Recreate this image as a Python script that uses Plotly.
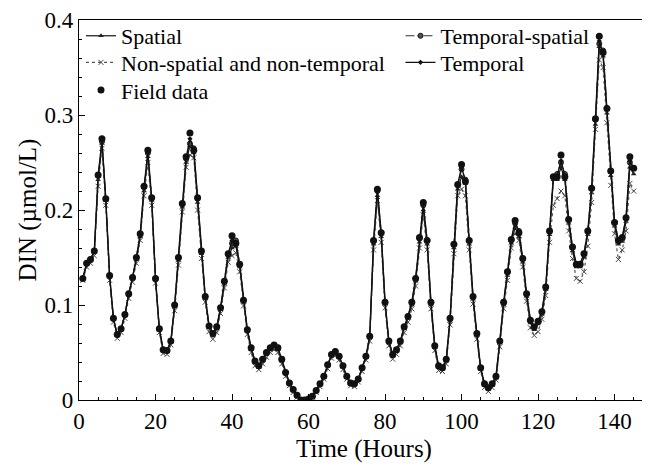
import plotly.graph_objects as go

hours = list(range(1, 146))

field_data = [
    0.128,0.144,0.148,0.157,0.237,0.275,0.212,0.131,0.086,0.069,
    0.075,0.090,0.112,0.129,0.150,0.175,0.225,0.263,0.213,0.128,
    0.075,0.053,0.052,0.062,0.100,0.150,0.207,0.256,0.281,0.263,
    0.213,0.157,0.109,0.078,0.070,0.077,0.097,0.125,0.154,0.173,
    0.165,0.143,0.105,0.074,0.055,0.041,0.036,0.043,0.050,0.055,
    0.058,0.055,0.043,0.029,0.018,0.011,0.005,0.000,0.000,0.001,
    0.004,0.010,0.017,0.025,0.037,0.048,0.051,0.046,0.036,0.025,
    0.018,0.017,0.022,0.034,0.046,0.067,0.168,0.222,0.176,0.103,
    0.062,0.048,0.053,0.062,0.077,0.088,0.103,0.128,0.171,0.208,
    0.168,0.103,0.057,0.036,0.034,0.043,0.086,0.164,0.227,0.248,
    0.230,0.168,0.109,0.070,0.034,0.017,0.013,0.017,0.025,0.062,
    0.103,0.135,0.169,0.189,0.176,0.149,0.112,0.084,0.077,0.083,
    0.093,0.119,0.178,0.235,0.235,0.258,0.235,0.190,0.161,0.143,
    0.143,0.154,0.178,0.223,0.296,0.383,0.366,0.307,0.241,0.187,
    0.168,0.171,0.192,0.256,0.244]

spatial = [
    0.128,0.143,0.147,0.156,0.232,0.270,0.210,0.130,0.085,0.068,
    0.074,0.089,0.111,0.128,0.148,0.172,0.220,0.256,0.210,0.127,
    0.074,0.052,0.051,0.061,0.098,0.147,0.203,0.250,0.268,0.260,
    0.208,0.154,0.107,0.076,0.068,0.075,0.095,0.122,0.150,0.160,
    0.162,0.140,0.103,0.072,0.053,0.039,0.034,0.041,0.048,0.053,
    0.056,0.053,0.041,0.028,0.017,0.010,0.004,0.000,0.000,0.001,
    0.004,0.009,0.016,0.024,0.036,0.047,0.050,0.045,0.035,0.024,
    0.017,0.016,0.021,0.033,0.045,0.066,0.164,0.215,0.172,0.101,
    0.060,0.046,0.051,0.060,0.075,0.086,0.100,0.125,0.166,0.200,
    0.164,0.100,0.055,0.034,0.032,0.041,0.083,0.160,0.222,0.235,
    0.228,0.164,0.106,0.068,0.032,0.015,0.011,0.015,0.023,0.060,
    0.100,0.131,0.165,0.182,0.172,0.145,0.109,0.081,0.074,0.080,
    0.090,0.116,0.174,0.232,0.232,0.245,0.232,0.186,0.157,0.140,
    0.140,0.150,0.174,0.218,0.290,0.372,0.362,0.302,0.236,0.183,
    0.164,0.167,0.188,0.245,0.238]

non_spatial = [
    0.126,0.140,0.144,0.152,0.225,0.265,0.205,0.126,0.082,0.065,
    0.071,0.086,0.107,0.124,0.144,0.168,0.215,0.250,0.205,0.123,
    0.071,0.049,0.048,0.058,0.094,0.142,0.198,0.245,0.258,0.255,
    0.200,0.149,0.103,0.072,0.064,0.071,0.091,0.118,0.145,0.152,
    0.155,0.135,0.099,0.069,0.050,0.036,0.032,0.038,0.045,0.050,
    0.053,0.050,0.038,0.025,0.015,0.008,0.003,0.000,0.000,0.000,
    0.003,0.008,0.014,0.022,0.033,0.044,0.047,0.042,0.032,0.022,
    0.015,0.014,0.019,0.030,0.042,0.062,0.158,0.210,0.166,0.097,
    0.057,0.043,0.048,0.057,0.071,0.082,0.096,0.120,0.160,0.195,
    0.158,0.096,0.052,0.031,0.030,0.038,0.079,0.154,0.215,0.222,
    0.215,0.158,0.101,0.064,0.030,0.013,0.009,0.013,0.021,0.056,
    0.096,0.126,0.160,0.175,0.168,0.140,0.104,0.076,0.068,0.072,
    0.085,0.110,0.166,0.205,0.212,0.220,0.215,0.178,0.149,0.128,
    0.125,0.135,0.162,0.208,0.285,0.358,0.350,0.292,0.226,0.175,
    0.148,0.158,0.178,0.228,0.220]

temporal_spatial = [
    0.128,0.144,0.148,0.157,0.236,0.272,0.212,0.131,0.086,0.069,
    0.075,0.090,0.112,0.129,0.150,0.175,0.224,0.260,0.213,0.128,
    0.075,0.053,0.052,0.062,0.100,0.150,0.206,0.254,0.270,0.265,
    0.212,0.157,0.109,0.078,0.070,0.077,0.097,0.125,0.153,0.165,
    0.168,0.143,0.105,0.074,0.055,0.041,0.036,0.043,0.050,0.055,
    0.058,0.055,0.043,0.029,0.018,0.011,0.005,0.000,0.000,0.001,
    0.004,0.010,0.017,0.025,0.037,0.048,0.051,0.046,0.036,0.025,
    0.018,0.017,0.022,0.034,0.046,0.067,0.167,0.220,0.176,0.103,
    0.062,0.048,0.053,0.062,0.077,0.088,0.103,0.128,0.170,0.205,
    0.168,0.103,0.057,0.036,0.034,0.043,0.086,0.164,0.226,0.243,
    0.232,0.168,0.109,0.070,0.034,0.017,0.013,0.017,0.025,0.062,
    0.103,0.135,0.168,0.186,0.178,0.149,0.112,0.084,0.077,0.083,
    0.093,0.119,0.178,0.235,0.238,0.250,0.238,0.190,0.161,0.143,
    0.143,0.154,0.178,0.223,0.295,0.375,0.368,0.307,0.241,0.187,
    0.168,0.171,0.192,0.250,0.244]

temporal = [
    0.128,0.144,0.148,0.157,0.236,0.273,0.212,0.131,0.086,0.069,
    0.075,0.090,0.112,0.129,0.150,0.175,0.224,0.261,0.213,0.128,
    0.075,0.053,0.052,0.062,0.100,0.150,0.206,0.255,0.275,0.264,
    0.213,0.157,0.109,0.078,0.070,0.077,0.097,0.125,0.154,0.168,
    0.166,0.143,0.105,0.074,0.055,0.041,0.036,0.043,0.050,0.055,
    0.058,0.055,0.043,0.029,0.018,0.011,0.005,0.000,0.000,0.001,
    0.004,0.010,0.017,0.025,0.037,0.048,0.051,0.046,0.036,0.025,
    0.018,0.017,0.022,0.034,0.046,0.067,0.168,0.221,0.176,0.103,
    0.062,0.048,0.053,0.062,0.077,0.088,0.103,0.128,0.171,0.206,
    0.168,0.103,0.057,0.036,0.034,0.043,0.086,0.164,0.227,0.245,
    0.231,0.168,0.109,0.070,0.034,0.017,0.013,0.017,0.025,0.062,
    0.103,0.135,0.169,0.188,0.177,0.149,0.112,0.084,0.077,0.083,
    0.093,0.119,0.178,0.235,0.236,0.252,0.236,0.190,0.161,0.143,
    0.143,0.154,0.178,0.223,0.296,0.378,0.365,0.307,0.241,0.187,
    0.168,0.171,0.192,0.252,0.244]

FONT = "Liberation Serif"

fig = go.Figure()
fig.add_trace(go.Scatter(
    x=hours, y=spatial, name="Spatial", mode="lines+markers", legend="legend6",
    line=dict(color="#111111", width=1.2),
    marker=dict(symbol="triangle-up", size=5, color="#222222")))
fig.add_trace(go.Scatter(
    x=hours, y=non_spatial, name="Non-spatial and non-temporal", mode="lines+markers",
    legend="legend2",
    line=dict(color="#555555", width=1.2, dash="dot"),
    marker=dict(symbol="x-thin", size=5, color="#444444",
                line=dict(color="#444444", width=1))))
fig.add_trace(go.Scatter(
    x=hours, y=temporal_spatial, name="Temporal-spatial", mode="lines+markers",
    legend="legend4",
    line=dict(color="#333333", width=1.2, dash="dashdot"),
    marker=dict(symbol="circle", size=5, color="#555555",
                line=dict(color="#111111", width=1))))
fig.add_trace(go.Scatter(
    x=hours, y=temporal, name="Temporal", mode="lines+markers", legend="legend5",
    line=dict(color="#111111", width=1.4),
    marker=dict(symbol="diamond", size=4, color="#111111")))
fig.add_trace(go.Scatter(
    x=hours, y=field_data, name="Field data", mode="markers", legend="legend3",
    marker=dict(symbol="circle", size=7, color="#111111")))

axis_common = dict(
    showline=True, linecolor="black", linewidth=1.3,
    ticks="inside", ticklen=6, tickwidth=1, tickcolor="black",
    showgrid=False, zeroline=False, ticklabeloverflow="allow",
    tickfont=dict(family=FONT, size=23, color="black"),
)

fig.update_xaxes(
    range=[0, 149], tick0=0, dtick=20, mirror=True,
    minor=dict(ticks="inside", ticklen=3, dtick=5, tickcolor="black"),
    title=dict(text="Time (Hours)", font=dict(family=FONT, size=25, color="black"),
               standoff=6),
    **axis_common)
fig.update_yaxes(
    range=[0, 0.4001], tick0=0, dtick=0.1, mirror=True,
    minor=dict(ticks="inside", ticklen=3, dtick=0.02, tickcolor="black"),
    title=dict(text="DIN (µmol/L)", font=dict(family=FONT, size=25, color="black"),
               standoff=0),
    **axis_common)

legend_common = dict(
    orientation="v", yanchor="middle", xanchor="left",
    font=dict(family=FONT, size=22, color="black"),
    bgcolor="rgba(0,0,0,0)", tracegroupgap=0, itemwidth=30,
)
LX_LEFT, LX_RIGHT = 0.0035, 0.564
ROW_Y = [0.958, 0.888, 0.815]

fig.update_layout(
    width=642, height=459,
    margin=dict(l=71, r=0, t=9, b=67),
    paper_bgcolor="white", plot_bgcolor="white",
    font=dict(family=FONT, color="black"),
    showlegend=True,
    legend6=dict(x=LX_LEFT, y=ROW_Y[0], **legend_common),
    legend2=dict(x=LX_LEFT, y=ROW_Y[1], **legend_common),
    legend3=dict(x=LX_LEFT, y=ROW_Y[2], **legend_common),
    legend4=dict(x=LX_RIGHT, y=ROW_Y[0], **legend_common),
    legend5=dict(x=LX_RIGHT, y=ROW_Y[1], **legend_common),
)

fig.write_html("out.html")
